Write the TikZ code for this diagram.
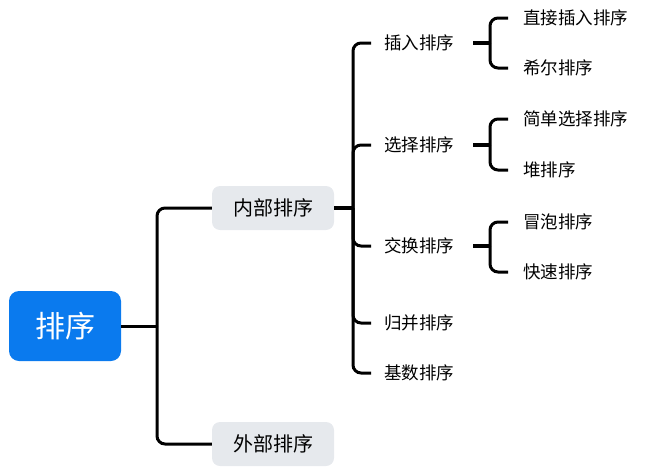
\documentclass[tikz,border=0pt]{standalone}
\usepackage{fontspec}
\setmainfont{Noto Sans CJK SC}
\definecolor{rootblue}{HTML}{0A7AEE}
\definecolor{boxgray}{HTML}{E6E9ED}
\begin{document}
\begin{tikzpicture}[x=1pt,y=-1pt,
  conn/.style={line width=3pt,rounded corners=8pt},
  rootbox/.style={fill=rootblue,text=white,rounded corners=10pt,minimum width=112pt,minimum height=70pt,font=\fontsize{30}{32}\selectfont,inner sep=0pt},
  graybox/.style={fill=boxgray,rounded corners=8pt,minimum width=122pt,minimum height=44pt,font=\fontsize{20}{23}\selectfont,inner sep=0pt},
  leaf/.style={anchor=west,inner xsep=13pt,inner ysep=2pt,font=\fontsize{17.5}{20}\selectfont}]
\useasboundingbox (0,0) rectangle (645,471);
\node[rootbox] (root) at (65,326) {排序};
\node[graybox] (nb) at (273,208) {内部排序};
\node[graybox] (wb) at (273,444) {外部排序};
\coordinate (j1) at (157,326);
\draw[line width=3pt] (root.east) -- (j1);
\draw[conn] (j1) |- (nb.west);
\draw[conn] (j1) |- (wb.west);
% level 2
\coordinate (j2) at (353,208);
\node[leaf] (crpx) at (371,43) {插入排序};
\node[leaf] (xzpx) at (371,145) {选择排序};
\node[leaf] (jhpx) at (371,246) {交换排序};
\node[leaf] (gbpx) at (371,323) {归并排序};
\node[leaf] (jspx) at (371,373) {基数排序};
\draw[line width=3.5pt] (nb.east) -- (j2);
\draw[conn] (j2) |- (crpx.west);
\draw[conn] (j2) |- (xzpx.west);
\draw[conn] (j2) |- (jhpx.west);
\draw[conn] (j2) |- (gbpx.west);
\draw[conn] (j2) |- (jspx.west);
% level 3
\node[leaf,inner xsep=15pt] (zjcr) at (508,18) {直接插入排序};
\node[leaf,inner xsep=15pt] (xe) at (508,68) {希尔排序};
\node[leaf,inner xsep=15pt] (jdxz) at (508,119) {简单选择排序};
\node[leaf,inner xsep=15pt] (dui) at (508,170) {堆排序};
\node[leaf,inner xsep=15pt] (mp) at (508,222) {冒泡排序};
\node[leaf,inner xsep=15pt] (ks) at (508,272) {快速排序};
\coordinate (k1) at (490,43);
\coordinate (k2) at (490,145);
\coordinate (k3) at (490,246);
\coordinate (s1) at (473,43);
\coordinate (s2) at (473,145);
\coordinate (s3) at (473,246);
\draw[line width=3.5pt] (s1) -- (k1);
\draw[line width=3.5pt] (s2) -- (k2);
\draw[line width=3.5pt] (s3) -- (k3);
\draw[conn] (k1) |- (zjcr.west);
\draw[conn] (k1) |- (xe.west);
\draw[conn] (k2) |- (jdxz.west);
\draw[conn] (k2) |- (dui.west);
\draw[conn] (k3) |- (mp.west);
\draw[conn] (k3) |- (ks.west);
\end{tikzpicture}
\end{document}
